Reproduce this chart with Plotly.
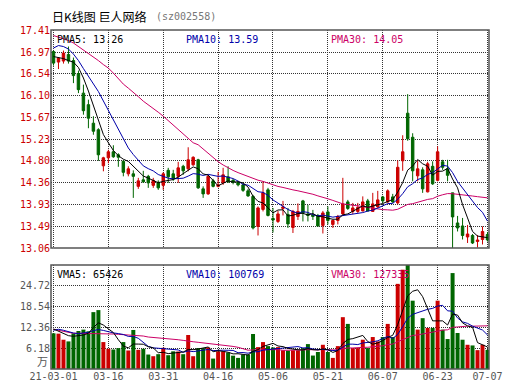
import plotly.graph_objects as go

# ---------------- data ----------------
dates = (
    ["03-01", "03-02", "03-03", "03-04", "03-05", "03-08", "03-09", "03-10", "03-11", "03-12",
     "03-15", "03-16", "03-17", "03-18", "03-19", "03-22", "03-23", "03-24", "03-25", "03-26",
     "03-29", "03-30", "03-31",
     "04-01", "04-02", "04-06", "04-07", "04-08", "04-09", "04-12", "04-13", "04-14", "04-15",
     "04-16", "04-19", "04-20", "04-21", "04-22", "04-23", "04-26", "04-27", "04-28", "04-29",
     "04-30",
     "05-06", "05-07", "05-10", "05-11", "05-12", "05-13", "05-14", "05-17", "05-18", "05-19",
     "05-20", "05-21", "05-24", "05-25", "05-26", "05-27", "05-28", "05-31",
     "06-01", "06-02", "06-03", "06-04", "06-07", "06-08", "06-09", "06-10", "06-11", "06-15",
     "06-16", "06-17", "06-18", "06-21", "06-22", "06-23", "06-24", "06-25", "06-28", "06-29",
     "06-30",
     "07-01", "07-02", "07-05", "07-06", "07-07"]
)
dates = ["2021-" + d for d in dates]

opens = [16.98, 16.77, 16.79, 16.92, 16.80, 16.54, 16.15, 15.92, 15.55, 15.42,
         14.70, 14.86, 14.98, 14.92, 14.79, 14.54, 14.54, 14.29, 14.42, 14.49,
         14.31, 14.37, 14.31, 14.61, 14.54, 14.49, 14.69, 14.64, 14.72, 14.82,
         14.24, 14.14, 14.40, 14.29, 14.36, 14.48, 14.41, 14.37, 14.32, 14.20,
         14.09, 13.49, 13.83, 14.22, 13.65, 13.59, 13.85, 13.73, 13.47, 13.69,
         14.00, 13.74, 13.72, 13.71, 13.51, 13.78, 13.53, 13.61, 13.74, 13.98,
         13.79, 13.79, 13.80, 14.00, 13.79, 13.88, 14.08, 13.98, 14.08, 13.96,
         14.80, 15.75, 15.27, 14.50, 14.62, 14.18, 14.69, 14.41, 14.78, 14.64,
         14.16, 13.56, 13.50, 13.28, 13.31, 13.19, 13.23, 13.33]
highs = [17.00, 16.87, 17.00, 17.08, 16.86, 16.60, 16.32, 16.02, 15.69, 15.45,
         14.88, 15.02, 15.11, 14.95, 14.81, 14.69, 14.61, 14.46, 14.60, 14.52,
         14.46, 14.41, 14.57, 14.66, 14.62, 14.78, 14.72, 15.07, 14.89, 14.84,
         14.29, 14.52, 14.44, 14.58, 14.66, 14.69, 14.44, 14.40, 14.36, 14.24,
         14.12, 13.89, 14.39, 14.26, 13.86, 13.80, 14.00, 13.86, 13.82, 13.95,
         14.02, 13.92, 13.82, 13.74, 13.80, 13.89, 13.63, 13.72, 14.46, 14.02,
         13.96, 13.96, 14.09, 14.04, 14.16, 14.20, 14.10, 14.23, 14.14, 14.81,
         15.31, 16.13, 15.35, 14.80, 14.67, 14.78, 14.79, 15.09, 14.82, 14.82,
         14.16, 13.70, 13.66, 13.52, 13.34, 13.32, 13.49, 13.38]
lows = [16.70, 16.63, 16.74, 16.74, 16.35, 16.15, 15.72, 15.45, 15.32, 14.80,
        14.59, 14.75, 14.86, 14.68, 14.49, 14.49, 14.06, 14.24, 14.36, 14.26,
        14.26, 14.22, 14.22, 14.36, 14.40, 14.36, 14.52, 14.59, 14.70, 14.24,
        14.06, 14.12, 14.27, 14.27, 14.32, 14.36, 14.33, 14.29, 14.18, 14.08,
        13.43, 13.31, 13.79, 13.69, 13.37, 13.56, 13.71, 13.46, 13.36, 13.62,
        13.59, 13.59, 13.62, 13.49, 13.35, 13.53, 13.46, 13.53, 13.72, 13.82,
        13.74, 13.76, 13.79, 13.79, 13.78, 13.86, 13.96, 13.96, 13.96, 13.93,
        14.60, 15.20, 14.39, 14.39, 14.16, 14.17, 14.32, 14.39, 14.62, 14.39,
        13.06, 13.39, 13.23, 13.16, 13.14, 13.07, 13.13, 13.19]
closes = [16.75, 16.85, 16.95, 16.79, 16.50, 16.22, 15.80, 15.65, 15.39, 14.92,
          14.86, 14.98, 14.88, 14.87, 14.57, 14.64, 14.49, 14.40, 14.38, 14.36,
          14.41, 14.26, 14.54, 14.48, 14.44, 14.66, 14.60, 14.82, 14.87, 14.26,
          14.14, 14.49, 14.29, 14.32, 14.52, 14.38, 14.37, 14.32, 14.21, 14.10,
          13.46, 13.86, 14.16, 13.71, 13.62, 13.74, 13.88, 13.54, 13.79, 13.79,
          13.76, 13.71, 13.69, 13.50, 13.76, 13.61, 13.61, 13.69, 13.94, 13.85,
          13.86, 13.87, 13.98, 13.80, 13.94, 14.02, 14.00, 14.20, 13.98, 14.67,
          14.98, 15.24, 14.60, 14.64, 14.24, 14.74, 14.34, 14.98, 14.67, 14.51,
          13.68, 13.46, 13.31, 13.34, 13.16, 13.22, 13.39, 13.22]
# volume in 万手
volumes = [10.6, 10.5, 8.7, 8.2, 10.6, 11.3, 11.7, 11.2, 16.9, 17.5,
           8.0, 6.0, 5.8, 6.2, 8.0, 5.5, 11.6, 5.7, 6.0, 4.3,
           3.8, 4.4, 6.3, 4.1, 5.25, 5.2, 4.4, 10.1, 3.8, 6.2,
           6.2, 6.4, 3.1, 5.25, 5.25, 4.9, 3.96, 3.3, 4.3, 4.3,
           10.4, 6.5, 8.0, 6.8, 6.4, 6.5, 5.55, 5.45, 5.55, 5.55,
           6.2, 7.4, 4.0, 5.05, 7.2, 5.05, 3.3, 6.8, 15.4, 13.4,
           6.2, 6.2, 8.7, 6.2, 9.5, 8.2, 9.5, 13.4, 9.5, 25.3,
           29.5, 30.9, 20.3, 11.7, 15.1, 12.2, 12.2, 20.3, 11.7, 8.9,
           28.5, 10.7, 8.7, 7.2, 7.0, 5.6, 7.2, 5.7]

# moving-average values for the first days (before enough history)
ma5_head = [16.88, 16.86, 16.84, 16.80]
ma10_head = [17.05, 17.10, 17.08, 17.03, 16.93, 16.80, 16.64, 16.48, 16.32]
ma30_head = [17.30, 17.27, 17.24, 17.20, 17.15, 17.08, 17.02, 16.95, 16.88, 16.80,
             16.72, 16.65, 16.55, 16.44, 16.33, 16.25, 16.17, 16.08, 15.99, 15.92,
             15.84, 15.77, 15.69, 15.60, 15.51, 15.42, 15.32, 15.24, 15.16]
vma5_head = [11.9, 11.3, 10.5, 9.9]
vma10_head = [11.5, 11.8, 11.5, 11.0, 10.7, 10.5, 10.6, 10.9, 11.4]
vma30_head = [11.8, 11.5, 11.0, 10.8, 10.6, 10.6, 10.6, 10.6, 10.6, 10.6,
              10.5, 10.5, 10.4, 10.3, 10.2, 10.0, 10.0, 10.0, 9.8, 9.5,
              9.4, 9.3, 9.2, 9.0, 8.9, 8.7, 8.5, 8.2, 8.1]

price_ticks = [13.06, 13.49, 13.93, 14.36, 14.80, 15.23, 15.67, 16.10, 16.54, 16.97, 17.41]
price_tick_text = ["13.06", "13.49", "13.93", "14.36", "14.80", "15.23", "15.67", "16.10", "16.54", "16.97", "17.41"]
vol_ticks = [6.18, 12.36, 18.54, 24.72]
vol_tick_text = ["6.18", "12.36", "18.54", "24.72"]
date_tick_idx = [0, 11, 22, 33, 44, 55, 66, 77, 87]
date_tick_text = ["21-03-01", "03-16", "03-31", "04-16", "05-06", "05-21", "06-07", "06-23", "07-07"]

title_name = "日K线图 巨人网络"
title_code = "(sz002558)"
pma_labels = ["PMA5: 13.26", "PMA10: 13.59", "PMA30: 14.05"]
vma_labels = ["VMA5: 65426", "VMA10: 100769", "VMA30: 127335"]


def moving_average(values, n, head):
    out = list(head)
    for i in range(len(head), len(values)):
        out.append(sum(values[i - n + 1:i + 1]) / n)
    return out


ma5 = moving_average(closes, 5, ma5_head)
ma10 = moving_average(closes, 10, ma10_head)
ma30 = moving_average(closes, 30, ma30_head)
vma5 = moving_average(volumes, 5, vma5_head)
vma10 = moving_average(volumes, 10, vma10_head)
vma30 = moving_average(volumes, 30, vma30_head)

RED = "#cc0000"
GREEN = "#006600"
BLUE = "#0000aa"
MAG = "#cc0066"
MONO = "DejaVu Sans Mono"
bar_colors = [RED if c > o else GREEN for o, c in zip(opens, closes)]

# ---------------- geometry ----------------
W, H = 530, 391
L, R, T, B = 43, 481, 22, 361
P_BOTTOM, V_TOP = 240, 257
PH = B - T
price_dom = [(B - P_BOTTOM) / PH, 1.0]
vol_dom = [0.0, (B - V_TOP) / PH]


def px(xp):
    return (xp - L) / (R - L)


def py(yp):
    return (B - yp) / PH


fig = go.Figure()

fig.add_trace(go.Candlestick(
    x=dates, open=opens, high=highs, low=lows, close=closes,
    increasing=dict(line=dict(color=RED, width=1), fillcolor=RED),
    decreasing=dict(line=dict(color=GREEN, width=1), fillcolor=GREEN),
    whiskerwidth=0, xaxis="x", yaxis="y", hoverinfo="skip",
))
for vals, col in [(ma30, MAG), (ma10, BLUE), (ma5, "#000000")]:
    fig.add_trace(go.Scatter(x=dates, y=vals, mode="lines", line=dict(color=col, width=1),
                             xaxis="x", yaxis="y", hoverinfo="skip"))

fig.add_trace(go.Bar(x=dates, y=volumes, marker=dict(color=bar_colors, line=dict(width=0)),
                     width=0.8, xaxis="x2", yaxis="y2", hoverinfo="skip"))
for vals, col in [(vma30, MAG), (vma10, BLUE), (vma5, "#000000")]:
    fig.add_trace(go.Scatter(x=dates, y=vals, mode="lines", line=dict(color=col, width=1),
                             xaxis="x2", yaxis="y2", hoverinfo="skip"))

grid = dict(showgrid=True, gridcolor="#333333", gridwidth=1, griddash="1px,1px",
            zeroline=False, showline=False, ticks="")
xr = [-0.5, 87.3]
tickdates = [dates[i] for i in date_tick_idx]

fig.update_layout(
    width=W, height=H,
    margin=dict(l=L, r=W - R, t=T, b=H - B, pad=0),
    paper_bgcolor="white", plot_bgcolor="white",
    showlegend=False, hovermode=False,
    xaxis=dict(domain=[0, 1], anchor="y", type="category", range=xr,
               tickvals=tickdates, showticklabels=False,
               rangeslider=dict(visible=False), **grid),
    yaxis=dict(domain=price_dom, anchor="x", range=[13.06, 17.41],
               tickvals=price_ticks, ticktext=price_tick_text,
               tickfont=dict(family=MONO, size=10, color=RED), **grid),
    xaxis2=dict(domain=[0, 1], anchor="y2", type="category", range=xr,
                tickvals=tickdates, ticktext=date_tick_text,
                tickfont=dict(family=MONO, size=10, color="#555555"), **grid),
    yaxis2=dict(domain=vol_dom, anchor="x2", range=[0, 30.9],
                tickvals=vol_ticks, ticktext=vol_tick_text,
                tickfont=dict(family=MONO, size=10, color="#555555"), **grid),
)

# panel borders
for d in (price_dom, vol_dom):
    fig.add_shape(type="rect", xref="paper", yref="paper", x0=0, x1=1, y0=d[0], y1=d[1],
                  line=dict(color="#555555", width=1.5), layer="above")

ann = []
ann.append(dict(x=px(43), y=py(8), xref="paper", yref="paper", xanchor="left", yanchor="middle",
                showarrow=False, text=title_name, borderpad=0,
                font=dict(family="Noto Sans CJK SC", size=12, color="#000000")))
ann.append(dict(x=px(147), y=py(8), xref="paper", yref="paper", xanchor="left", yanchor="middle",
                showarrow=False, text=title_code, borderpad=0,
                font=dict(family=MONO, size=10, color="#777777")))
for lab, xpix, col in zip(pma_labels, [47, 176, 321], ["#000000", BLUE, MAG]):
    ann.append(dict(x=px(xpix), y=py(32), xref="paper", yref="paper", xanchor="left",
                    yanchor="middle", showarrow=False, text=lab,
                    font=dict(family=MONO, size=10, color=col)))
for lab, xpix, col in zip(vma_labels, [47, 176, 321], ["#000000", BLUE, MAG]):
    ann.append(dict(x=px(xpix), y=py(266.5), xref="paper", yref="paper", xanchor="left",
                    yanchor="middle", showarrow=False, text=lab,
                    font=dict(family=MONO, size=10, color=col)))
ann.append(dict(x=px(42), y=py(353), xref="paper", yref="paper", xanchor="right",
                yanchor="middle", showarrow=False, text="万",
                font=dict(family="Noto Sans CJK SC", size=11, color="#555555")))
fig.update_layout(annotations=ann)

fig.write_html("out.html")
